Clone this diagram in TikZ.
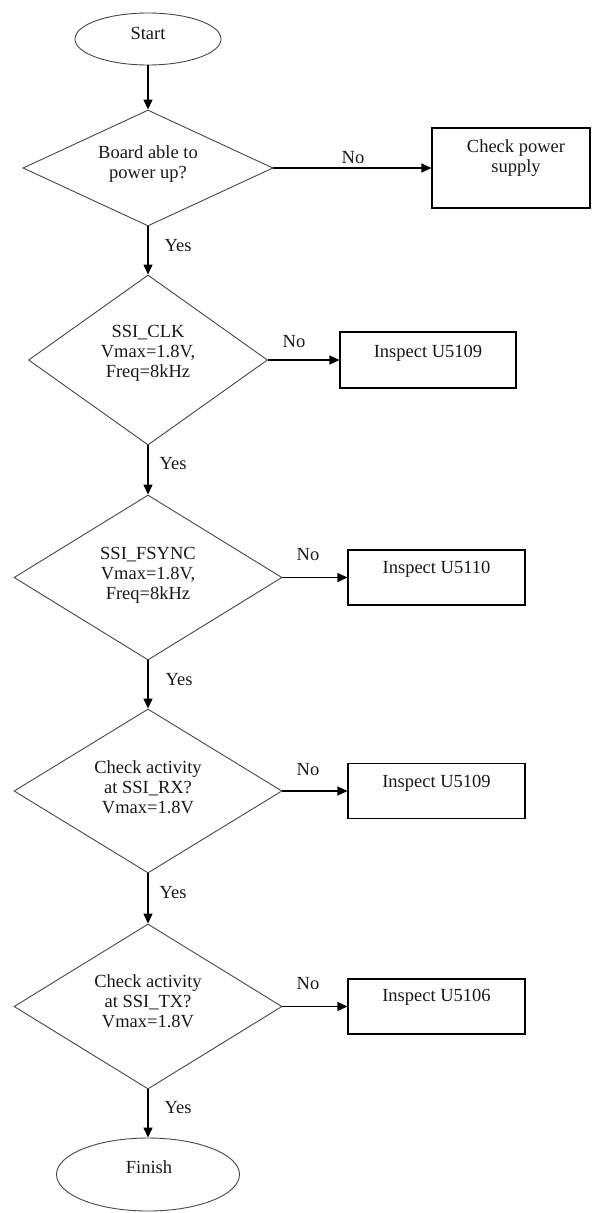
\documentclass[tikz,border=0pt]{standalone}
\usepackage{fontspec}
\setmainfont{Liberation Serif}
\usetikzlibrary{shapes.geometric,arrows.meta}
\begin{document}
\begin{tikzpicture}[x=1pt,y=-1pt,
  font=\fontsize{18.5}{20}\selectfont,
  shapeline/.style={draw=black!72,line width=0.9pt},
  term/.style={shapeline,ellipse,inner sep=0pt},
  decision/.style={shapeline,diamond,inner sep=0pt},
  actbox/.style={draw=black,line width=1.1pt,rectangle,inner sep=0pt},
  txt/.style={align=center,inner sep=0pt,text=black!90},
  lbl/.style={inner sep=0pt,text=black!90},
  flow/.style={draw=black,line width=1.3pt,-{Triangle[length=10pt,width=9pt]}}]
\useasboundingbox (0,0) rectangle (592,1213);
\fill[white] (0,0) rectangle (592,1213);

% terminals
\node[term,minimum width=146pt,minimum height=52pt] (start) at (148,39) {};
\node[txt] (starttxt) at (148,33) {Start};
\node[term,minimum width=183pt,minimum height=73pt] (finish) at (148,1174.5) {};
\node[txt] (finishtxt) at (149,1167) {Finish};

% decisions
\node[decision,minimum width=250pt,minimum height=116pt] (d1) at (148,168) {};
\node[txt] (d1txt) at (148,164) {Board able to\\power up?};
\node[decision,minimum width=239pt,minimum height=170pt] (d2) at (148,360) {};
\node[txt] (d2txt) at (148,353) {SSI\_CLK\\Vmax=1.8V,\\Freq=8kHz};
\node[decision,minimum width=268pt,minimum height=165pt] (d3) at (148,577.5) {};
\node[txt] (d3txt) at (148,575) {SSI\_FSYNC\\Vmax=1.8V,\\Freq=8kHz};
\node[decision,minimum width=268pt,minimum height=164pt] (d4) at (148,791) {};
\node[txt] (d4txt) at (148,787) {Check activity\\at SSI\_RX?\\Vmax=1.8V};
\node[decision,minimum width=268pt,minimum height=165pt] (d5) at (148,1006.5) {};
\node[txt] (d5txt) at (148,1001) {Check activity\\at SSI\_TX?\\Vmax=1.8V};

% action boxes
\node[actbox,minimum width=158pt,minimum height=80pt] (b1) at (511,168) {};
\node[txt] (b1txt) at (516,158) {Check power\\supply};
\node[actbox,minimum width=176pt,minimum height=56pt] (b2) at (428,360) {};
\node[txt] (b2txt) at (428,353) {Inspect U5109};
\node[actbox,minimum width=177pt,minimum height=55pt] (b3) at (436.5,577.5) {};
\node[txt] (b3txt) at (436.5,569) {Inspect U5110};
\node[actbox,minimum width=177pt,minimum height=55pt] (b4) at (436.5,791) {};
\node[txt] (b4txt) at (436.5,783) {Inspect U5109};
\node[actbox,minimum width=177pt,minimum height=55pt] (b5) at (436.5,1006.5) {};
\node[txt] (b5txt) at (436.5,997) {Inspect U5106};

% vertical flow
\draw[flow] (start.south) -- (d1.north);
\draw[flow] (d1.south) -- (d2.north);
\draw[flow] (d2.south) -- (d3.north);
\draw[flow] (d3.south) -- (d4.north);
\draw[flow] (d4.south) -- (d5.north);
\draw[flow] (d5.south) -- (finish.north);

% No branches
\draw[flow] (d1.east) -- (b1.west);
\draw[flow] (d2.east) -- (b2.west);
\draw[flow] (d3.east) -- (b3.west);
\draw[flow] (d4.east) -- (b4.west);
\draw[flow] (d5.east) -- (b5.west);

% labels
\node[lbl] (no1) at (353,158) {No};
\node[lbl] (no2) at (294,342) {No};
\node[lbl] (no3) at (308,555) {No};
\node[lbl] (no4) at (308,770) {No};
\node[lbl] (no5) at (308,984) {No};
\node[lbl] (yes1) at (178,246) {Yes};
\node[lbl] (yes2) at (173,464) {Yes};
\node[lbl] (yes3) at (179,680) {Yes};
\node[lbl] (yes4) at (173,893) {Yes};
\node[lbl] (yes5) at (178,1108) {Yes};
\end{tikzpicture}
\end{document}
